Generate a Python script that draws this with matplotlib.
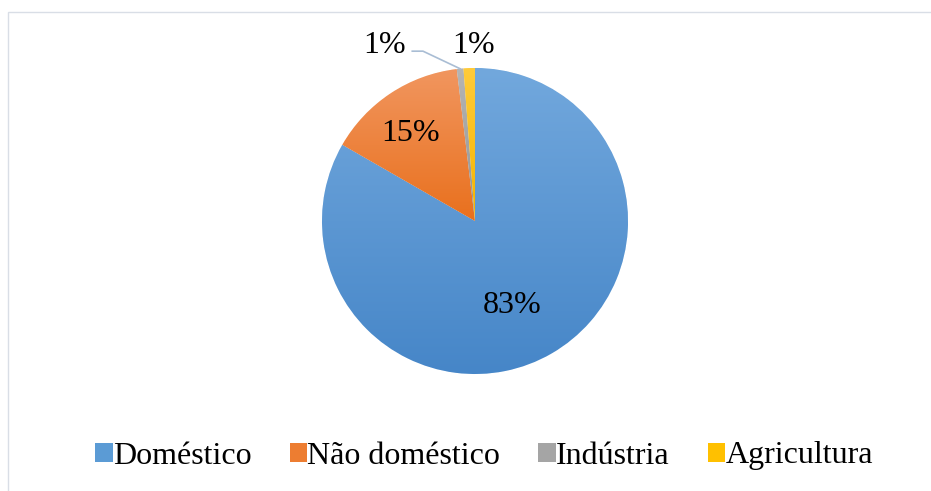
import numpy as np
import matplotlib
matplotlib.use("Agg")
import matplotlib.pyplot as plt
from matplotlib.patches import Patch, Rectangle

categories = ["Doméstico", "Não doméstico", "Indústria", "Agricultura"]
values = [83.3, 14.8, 0.7, 1.2]
pct_labels = ["83%", "15%", "1%", "1%"]

# gradient colours per slice: (top, bottom)
grad_colors = [("#72a8dd", "#4686c8"),
               ("#f1965f", "#e9701d"),
               ("#b5b5b5", "#939393"),
               ("#ffcb3a", "#f4b400")]
legend_colors = ["#5b9bd5", "#ed7d31", "#a5a5a5", "#ffc000"]

# label positions in pie units (radius = 1)
label_pos = [(0.24, -0.55), (-0.42, 0.57), (-0.59, 1.15), (-0.01, 1.15)]

plt.rcParams["font.family"] = ["Liberation Serif", "DejaVu Serif"]

W, H = 931, 491
fig = plt.figure(figsize=(W / 100, H / 100), dpi=100)

# chart area border
fig.patches.append(Rectangle((8 / W, -0.1), 1.2, 1 - 12 / H + 0.1,
                             transform=fig.transFigure, fill=False,
                             edgecolor="#d9dee6", linewidth=1.0))

cx, cy, r = 475, 221, 153
ax = fig.add_axes([(cx - r) / W, (H - cy - r) / H, 2 * r / W, 2 * r / H])
ax.axis("off")

wedges, _ = ax.pie(values, startangle=90, counterclock=False,
                   colors=legend_colors,
                   wedgeprops=dict(edgecolor="white", linewidth=0.5))

for w, (top, bot) in zip(wedges, grad_colors):
    ext = w.get_path().get_extents()
    c0 = np.array(matplotlib.colors.to_rgb(top))
    c1 = np.array(matplotlib.colors.to_rgb(bot))
    t = np.linspace(0, 1, 256)[:, None]
    grad = (c0 * (1 - t) + c1 * t)[:, None, :]
    im = ax.imshow(grad, extent=(ext.x0, ext.x1, ext.y0, ext.y1),
                   origin="upper", aspect="auto", zorder=w.get_zorder() + 0.1,
                   interpolation="bilinear")
    im.set_clip_path(w)

ax.set_xlim(-1, 1)
ax.set_ylim(-1, 1)

for (lx, ly), txt in zip(label_pos, pct_labels):
    ax.text(lx, ly, txt, ha="center", va="center", fontsize=23, color="black")

# leader line for the Indústria label
g = wedges[2]
mid = np.deg2rad((g.theta1 + g.theta2) / 2)
px, py = np.cos(mid), np.sin(mid)
lx, ly = label_pos[2]
ax.plot([lx + 0.18, lx + 0.25, px], [ly - 0.04, ly - 0.04, py],
        color="#a9bdd4", linewidth=1.2, clip_on=False, zorder=5)

handles = [Patch(facecolor=c, edgecolor="none") for c in legend_colors]
fig.legend(handles, categories, loc="center", ncol=4,
           bbox_to_anchor=(484 / W, 1 - 456 / H), frameon=False,
           fontsize=23, handlelength=0.55, handleheight=0.55,
           handletextpad=0.0, columnspacing=1.2)

fig.savefig("out.png", dpi=100)
